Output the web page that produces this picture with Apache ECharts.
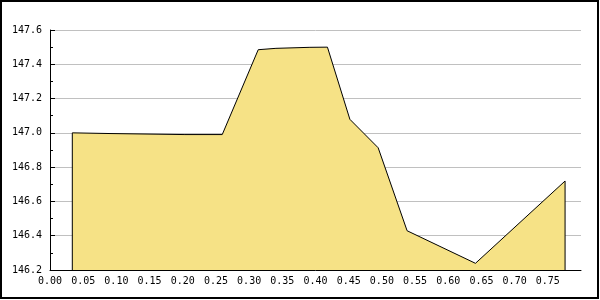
<!DOCTYPE html>
<html>
<head>
<meta charset="utf-8">
<script src="https://cdn.jsdelivr.net/npm/echarts@6/dist/echarts.min.js"></script>
<style>html,body{margin:0;padding:0;background:#fff}#c{width:600px;height:300px}</style>
</head>
<body>
<div id="c"></div>
<script>
var xValues = [0.0336, 0.0904, 0.2033, 0.2595, 0.3137, 0.3404, 0.3916, 0.418, 0.4518, 0.4944, 0.538, 0.641, 0.776];
var yValues = [147.0, 146.996, 146.99, 146.99, 147.485, 147.493, 147.499, 147.5, 147.079, 146.913, 146.429, 146.239, 146.719];
var yMin = 146.2, yMax = 147.6, yStep = 0.2;
var xMin = 0, xMax = 0.8, xStep = 0.05;

var pts = xValues.map(function (x, i) { return [x, yValues[i]]; });
var outline = [[xValues[0], yMin]].concat(pts, [[xValues[xValues.length - 1], yMin]]);

var chart = echarts.init(document.getElementById('c'), null, {renderer: 'canvas'});
var font = 'DejaVu Sans Mono';
chart.setOption({
  animation: false,
  grid: {left: 50, right: 19, top: 30, bottom: 30},
  graphic: [{
    type: 'rect', shape: {x: 1, y: 1, width: 597, height: 297},
    style: {fill: null, stroke: '#000', lineWidth: 2}, silent: true, z: 100
  }],
  xAxis: {
    type: 'value', min: xMin, max: xMax, interval: xStep,
    axisLine: {show: true, lineStyle: {color: '#000', width: 1}},
    axisTick: {show: true, inside: true, length: 5, lineStyle: {color: '#000'}},
    splitLine: {show: false},
    axisLabel: {
      color: '#000', fontFamily: font, fontSize: 10, margin: 6,
      showMaxLabel: false,
      formatter: function (v) { return v.toFixed(2); }
    }
  },
  yAxis: {
    type: 'value', min: yMin, max: yMax, interval: yStep,
    axisLine: {show: true, lineStyle: {color: '#000', width: 1}},
    axisTick: {show: true, inside: true, length: 5, lineStyle: {color: '#000'}},
    minorTick: {show: true, splitNumber: 2, length: 3, lineStyle: {color: '#000'}},
    splitLine: {show: true, lineStyle: {color: '#c0c0c0', width: 1}},
    axisLabel: {
      color: '#000', fontFamily: font, fontSize: 10, margin: 8,
      formatter: function (v) { return v.toFixed(1); }
    }
  },
  series: [{
    type: 'line', data: outline, symbol: 'none',
    lineStyle: {color: '#000', width: 1},
    areaStyle: {color: '#f6e286', opacity: 1, origin: 'start'},
    z: 3
  }]
});
</script>
</body>
</html>
